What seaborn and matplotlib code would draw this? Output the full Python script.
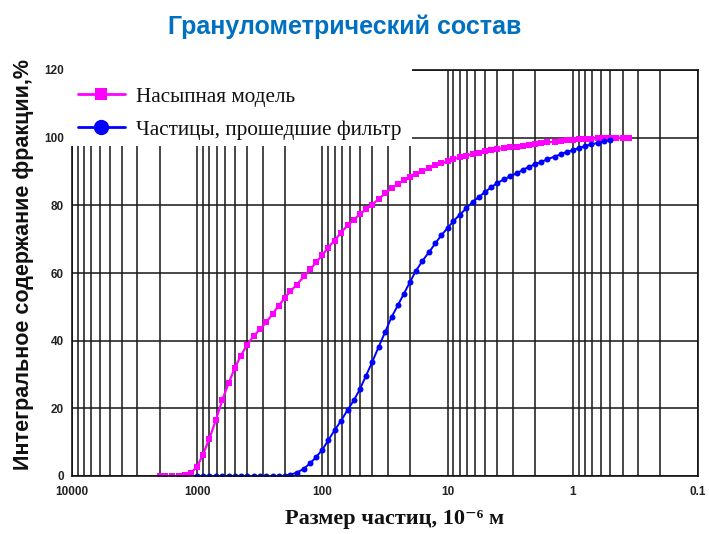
import matplotlib
matplotlib.use("Agg")
import matplotlib.pyplot as plt
from matplotlib.lines import Line2D
from matplotlib.patches import Rectangle
from matplotlib.ticker import FixedLocator, FixedFormatter, LogLocator, NullFormatter
import seaborn as sns
import pandas as pd

# Particle sizes, 10^-6 m (R20 sieve series)
particle_size = [2000, 1800, 1600, 1400, 1250, 1120,
                 1000, 900, 800, 710, 630, 560, 500, 450, 400, 355,
                 315, 280, 250, 224, 200, 180, 160, 140, 125, 112,
                 100, 90, 80, 71, 63, 56, 50, 45, 40, 35.5,
                 31.5, 28, 25, 22.4, 20, 18, 16, 14, 12.5, 11.2,
                 10, 9, 8, 7.1, 6.3, 5.6, 5, 4.5, 4, 3.55,
                 3.15, 2.8, 2.5, 2.24, 2, 1.8, 1.6, 1.4, 1.25, 1.12,
                 1, 0.9, 0.8, 0.71, 0.63, 0.56, 0.5, 0.45, 0.4, 0.355]

# Cumulative fraction, % - bulk model
bulk_fraction = [0, 0, 0, 0, 0.2, 0.9,
                 2.8, 6.3, 11, 16.5, 22.5, 27.5, 32, 35.4, 38.8, 41.3,
                 43.4, 45.5, 47.9, 50.3, 52.6, 54.6, 56.6, 59, 61.1, 63.2,
                 65.3, 67.5, 69.6, 71.9, 74.1, 75.8, 77.4, 78.8, 80.2, 81.9,
                 83.5, 85.1, 86.3, 87.4, 88.5, 89.4, 90.1, 91.0, 91.8, 92.4,
                 93.0, 93.6, 94.2, 94.7, 95.2, 95.6, 96.0, 96.3, 96.6, 96.9,
                 97.1, 97.3, 97.6, 97.9, 98.1, 98.4, 98.6, 98.8, 99.0, 99.2,
                 99.3, 99.5, 99.6, 99.7, 99.8, 99.85, 99.9, 99.95, 100, 100]

# Cumulative fraction, % - particles that passed the filter (1000 ... 0.5)
filter_size = particle_size[6:73]
filter_fraction = [0, 0, 0, 0, 0, 0, 0, 0, 0, 0,
                   0, 0, 0, 0, 0.1, 0.4, 1.0, 2.2, 3.8, 5.6,
                   7.8, 10.5, 13.5, 16.3, 19.5, 22.4, 25.8, 29.5, 33.7, 38.2,
                   42.6, 47, 50.4, 53.8, 57.3, 60.5, 63.4, 66.3, 68.8, 71.2,
                   73.3, 75.3, 77.2, 79.1, 81, 82.5, 84, 85.3, 86.6, 87.7,
                   88.6, 89.5, 90.5, 91.4, 92.1, 92.8, 93.6, 94.4, 95.1, 95.8,
                   96.3, 96.9, 97.5, 98.0, 98.5, 98.9, 99.3]

x_ticks = [10000, 1000, 100, 10, 1, 0.1]
x_tick_labels = ["10000", "1000", "100", "10", "1", "0.1"]
y_ticks = [0, 20, 40, 60, 80, 100, 120]

series_names = ["Насыпная модель", "Частицы, прошедшие фильтр"]
series_colors = ["#FF00FF", "#0000FF"]

sns.set_theme(style="white")
plt.rcParams['font.family'] = ['Liberation Sans', 'DejaVu Sans']

bulk_df = pd.DataFrame({"size": particle_size, "frac": bulk_fraction})
filt_df = pd.DataFrame({"size": filter_size, "frac": filter_fraction})

W, H = 709, 534
AX_L, AX_R, AX_T, AX_B = 72, 698, 70, 476
fig = plt.figure(figsize=(W / 100, H / 100), dpi=100)
ax = fig.add_axes([AX_L / W, 1 - AX_B / H, (AX_R - AX_L) / W, (AX_B - AX_T) / H])


def ax_xy(px, py):
    """Pixel position in the figure -> axes fraction."""
    return (px - AX_L) / (AX_R - AX_L), (AX_B - py) / (AX_B - AX_T)


sns.lineplot(data=bulk_df, x="size", y="frac", ax=ax, color=series_colors[0],
             marker="s", markersize=5, markeredgewidth=0, linewidth=1.6,
             sort=False, legend=False)
sns.lineplot(data=filt_df, x="size", y="frac", ax=ax, color=series_colors[1],
             marker="o", markersize=4.3, markeredgewidth=0, linewidth=1.4,
             sort=False, legend=False)

ax.set_xscale("log")
ax.set_xlim(10000, 0.1)
ax.set_ylim(0, 120)
ax.xaxis.set_major_locator(FixedLocator(x_ticks))
ax.xaxis.set_major_formatter(FixedFormatter(x_tick_labels))
ax.xaxis.set_minor_locator(LogLocator(base=10, subs=[2, 3, 4, 5, 6, 7, 8, 9], numticks=20))
ax.xaxis.set_minor_formatter(NullFormatter())
ax.set_yticks(y_ticks)

ax.set_axisbelow(True)
ax.grid(which="both", axis="x", color="#1a1a1a", linewidth=1.4, alpha=0.8)
ax.grid(which="major", axis="y", color="#1a1a1a", linewidth=1.4, alpha=0.8)

for s in ax.spines.values():
    s.set_color("#111111")
    s.set_linewidth(1.2)

ax.tick_params(axis="x", which="both", length=0, pad=7)
ax.tick_params(axis="y", length=2, color="#999999", pad=4)
for lab in ax.get_xticklabels() + ax.get_yticklabels():
    lab.set_fontsize(8.5)
    lab.set_fontweight("bold")
    lab.set_color("#222222")

ax.set_xlabel("")
ax.set_ylabel("Интегральное содержание фракции,%", fontsize=15.5,
              fontweight="bold", color="#111111")
ax.yaxis.set_label_coords(*ax_xy(34, 265))

fig.text(395 / W, 1 - 519 / H, "Размер частиц, 10⁻⁶ м",
         ha="center", va="center", fontsize=16, fontweight="bold",
         family=["Liberation Serif", "DejaVu Serif"], color="#111111")

fig.text(345 / W, 1 - 27 / H, "Гранулометрический состав",
         ha="center", va="center", fontsize=18, fontweight="bold",
         color="#0070C0")

# white backing behind the legend, hiding grid and spines in that corner
x0, y1 = ax_xy(70, 67)
x1, y0 = ax_xy(412, 146)
ax.add_patch(Rectangle((x0, y0), x1 - x0, y1 - y0, transform=ax.transAxes,
                       facecolor="white", edgecolor="none", zorder=3,
                       clip_on=False))

handles = [
    Line2D([], [], color=series_colors[0], marker="s", markersize=9,
           markeredgewidth=0, linewidth=2),
    Line2D([], [], color=series_colors[1], marker="o", markersize=11,
           markeredgewidth=0, linewidth=2),
]
lx, ly = ax_xy(78, 87)
leg = ax.legend(handles, series_names, loc="upper left", bbox_to_anchor=(lx, ly),
                borderaxespad=0, frameon=False, borderpad=0,
                handlelength=2.2, handletextpad=0.55, labelspacing=0.6,
                prop={"family": ["Liberation Serif", "DejaVu Serif"], "size": 15.3})
leg.set_zorder(4)
for t in leg.get_texts():
    t.set_color("#111111")

fig.savefig("out.png", dpi=100, facecolor="white")
